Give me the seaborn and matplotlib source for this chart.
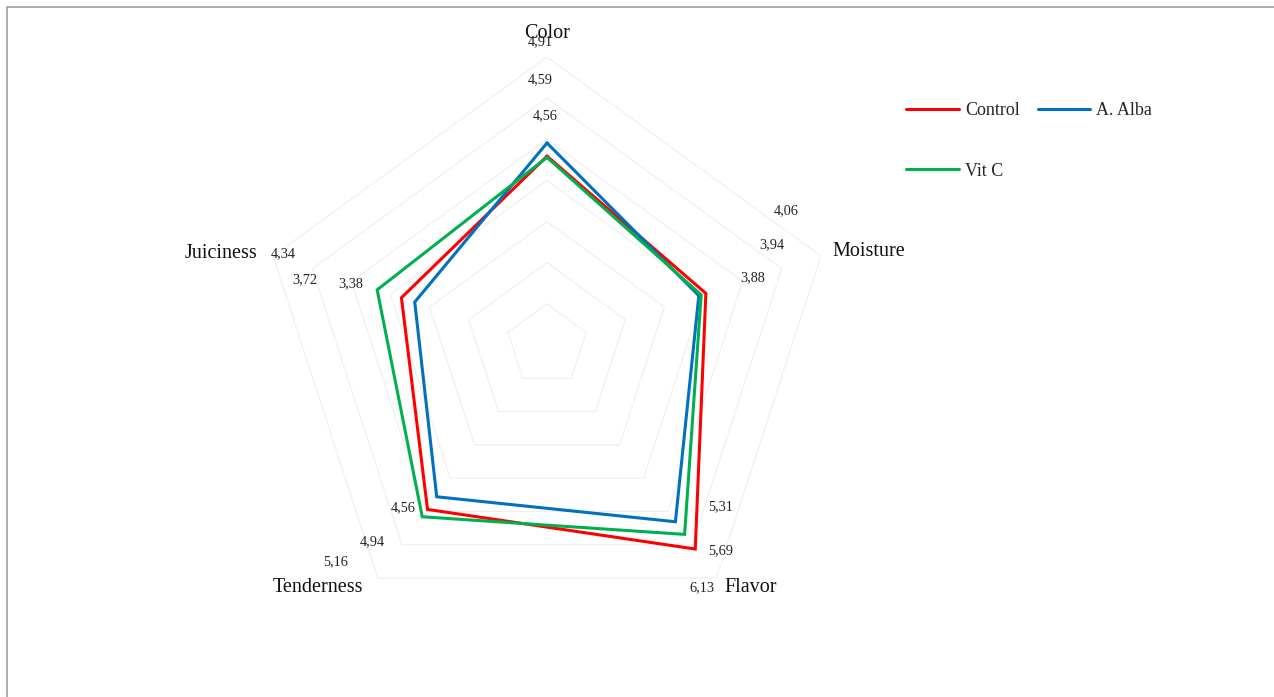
import numpy as np
import matplotlib
matplotlib.use("Agg")
import matplotlib.pyplot as plt
import seaborn as sns

categories = ["Color", "Moisture", "Flavor", "Tenderness", "Juiciness"]
series_names = ["Control", "A. Alba", "Vit C"]
control = [4.59, 4.06, 6.13, 4.94, 3.72]
a_alba = [4.91, 3.88, 5.31, 4.56, 3.38]
vit_c = [4.56, 3.94, 5.69, 5.16, 4.34]
colors = ["#FF0000", "#0070C0", "#00B050"]

# where the value labels sit (pixel centres in the 1274x697 picture)
label_px = {
    "Control": [(540, 80), (786, 211), (702, 588), (372, 542), (305, 280)],
    "A. Alba": [(540, 42), (753, 278), (721, 507), (403, 508), (351, 284)],
    "Vit C": [(545, 116), (772, 245), (721, 551), (336, 562), (283, 254)],
}
# category label positions (pixel, alignment)
cat_px = [(547, 33, "center"), (832, 252, "left"), (724, 587, "left"),
          (363, 587, "right"), (257, 253, "right")]

sns.set_theme(style="white")
plt.rcParams["font.family"] = ["Liberation Serif", "DejaVu Serif"]

W, H = 1274, 697
fig = plt.figure(figsize=(W / 100, H / 100), dpi=100)
cx, cy, R = 547, 345, 288
ax = fig.add_axes([(cx - R) / W, (H - cy - R) / H, 2 * R / W, 2 * R / H],
                  projection="polar")
ax.set_theta_offset(np.pi / 2)
ax.set_theta_direction(-1)
ax.set_ylim(0, 7)
ax.grid(False)
ax.set_xticks([])
ax.set_yticks([])
ax.spines["polar"].set_visible(False)
ax.patch.set_alpha(0)

n = len(categories)
theta = np.linspace(0, 2 * np.pi, n, endpoint=False)
theta_c = np.append(theta, theta[0])

for r in range(1, 8):
    ax.plot(theta_c, [r] * (n + 1), color="#efefef", lw=0.8, zorder=1)

for name, vals, c in zip(series_names, [control, a_alba, vit_c], colors):
    ax.plot(theta_c, vals + vals[:1], color=c, lw=2.2, label=name, zorder=3,
            solid_joinstyle="miter")

for name, vals in zip(series_names, [control, a_alba, vit_c]):
    for v, (px, py) in zip(vals, label_px[name]):
        fig.text(px / W, 1 - py / H, f"{v:.2f}".replace(".", ","),
                 ha="center", va="center", fontsize=10.3, color="#222222")

for cat, (px, py, ha) in zip(categories, cat_px):
    fig.text(px / W, 1 - py / H, cat, ha=ha, va="center", fontsize=14.5,
             color="#111111")

# legend: row-wise order Control, A. Alba / Vit C
handles, labels = ax.get_legend_handles_labels()
order = [0, 2, 1]
fig.legend([handles[i] for i in order], [labels[i] for i in order], ncol=2,
           loc="upper left", bbox_to_anchor=(890 / W, 1 - 86 / H),
           frameon=False, fontsize=13, handlelength=2.9,
           columnspacing=1.0, labelspacing=2.4, handletextpad=0.35)

# outer border (top and left only visible)
fig.add_artist(plt.Line2D([7 / W, 7 / W], [0, 1 - 7 / H], color="#a0a0a0",
                          lw=1.2, transform=fig.transFigure))
fig.add_artist(plt.Line2D([7 / W, 1], [1 - 7 / H, 1 - 7 / H], color="#a0a0a0",
                          lw=1.2, transform=fig.transFigure))

fig.savefig("out.png", dpi=100)
